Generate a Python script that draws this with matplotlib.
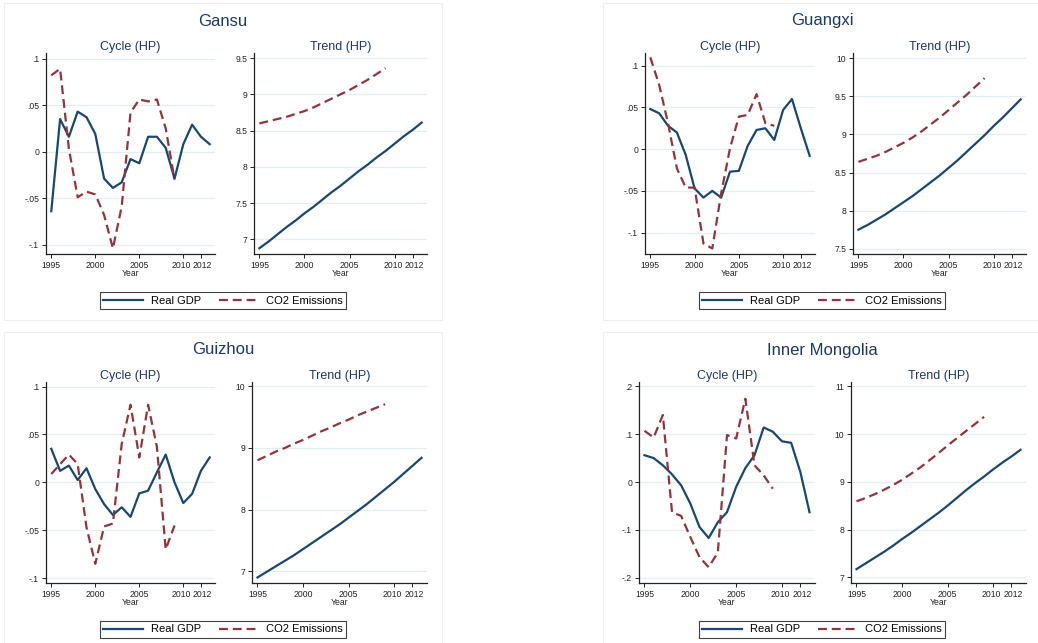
import matplotlib
matplotlib.use("Agg")
import matplotlib.pyplot as plt
import matplotlib.transforms as mtransforms
from matplotlib.lines import Line2D
from matplotlib.patches import Rectangle

plt.rcParams["font.family"] = ["Liberation Sans", "DejaVu Sans"]

NAVY = "#1a476f"
MAROON = "#90353b"
TITLE_COL = "#1e3864"
GRID_COL = "#e4eef0"

YEARS = list(range(1995, 2014))          # GDP series 1995-2013
YEARS_CO2 = list(range(1995, 2010))      # CO2 series 1995-2009
XTICKS = [1995, 2000, 2005, 2010, 2012]

# --- Gansu ---
gansu_gdp_cycle = [-0.064, 0.035, 0.016, 0.043, 0.037, 0.019, -0.029, -0.039,
                   -0.033, -0.008, -0.0125, 0.016, 0.016, 0.004, -0.029,
                   0.008, 0.029, 0.016, 0.008]
gansu_co2_cycle = [0.082, 0.089, 0.003, -0.049, -0.043, -0.046, -0.068,
                   -0.104, -0.059, 0.042, 0.056, 0.054, 0.056, 0.025, -0.030]
gansu_gdp_trend = [6.88, 6.97, 7.07, 7.17, 7.26, 7.36, 7.45, 7.55, 7.65,
                   7.74, 7.84, 7.94, 8.03, 8.13, 8.22, 8.32, 8.42, 8.51, 8.61]
gansu_co2_trend = [8.60, 8.63, 8.66, 8.69, 8.73, 8.77, 8.82, 8.88, 8.94,
                   9.00, 9.06, 9.13, 9.20, 9.28, 9.36]

# --- Guangxi ---
guangxi_gdp_cycle = [0.048, 0.043, 0.028, 0.020, -0.007, -0.047, -0.058,
                     -0.050, -0.058, -0.027, -0.026, 0.004, 0.023, 0.025,
                     0.011, 0.047, 0.060, 0.025, -0.008]
guangxi_co2_cycle = [0.110, 0.077, 0.031, -0.023, -0.046, -0.046, -0.113,
                     -0.119, -0.053, 0.001, 0.039, 0.041, 0.066, 0.031, 0.028]
guangxi_gdp_trend = [7.75, 7.81, 7.88, 7.95, 8.03, 8.11, 8.19, 8.28, 8.37,
                     8.46, 8.56, 8.66, 8.77, 8.88, 8.99, 9.11, 9.22, 9.34, 9.46]
guangxi_co2_trend = [8.64, 8.68, 8.72, 8.77, 8.83, 8.89, 8.96, 9.04, 9.13,
                     9.22, 9.32, 9.42, 9.52, 9.63, 9.74]

# --- Guizhou ---
guizhou_gdp_cycle = [0.035, 0.012, 0.0175, 0.0024, 0.0147, -0.007, -0.0227,
                     -0.034, -0.026, -0.036, -0.0115, -0.0087, 0.0105, 0.029,
                     0.0, -0.0216, -0.012, 0.012, 0.026]
guizhou_co2_cycle = [0.0087, 0.019, 0.029, 0.019, -0.047, -0.085, -0.046,
                     -0.043, 0.040, 0.081, 0.026, 0.081, 0.037, -0.070, -0.045]
guizhou_gdp_trend = [6.90, 6.99, 7.08, 7.17, 7.26, 7.36, 7.46, 7.56, 7.66,
                     7.76, 7.87, 7.98, 8.09, 8.21, 8.33, 8.45, 8.58, 8.71, 8.84]
guizhou_co2_trend = [8.80, 8.87, 8.94, 9.00, 9.07, 9.13, 9.20, 9.27, 9.33,
                     9.40, 9.46, 9.53, 9.59, 9.65, 9.71]

# --- Inner Mongolia ---
inner_mongolia_gdp_cycle = [0.056, 0.050, 0.035, 0.016, -0.007, -0.045,
                            -0.094, -0.117, -0.084, -0.063, -0.010, 0.029,
                            0.056, 0.114, 0.105, 0.085, 0.082, 0.021, -0.063]
inner_mongolia_co2_cycle = [0.107, 0.093, 0.140, -0.063, -0.071, -0.115,
                            -0.157, -0.178, -0.147, 0.098, 0.091, 0.174,
                            0.035, 0.014, -0.014]
inner_mongolia_gdp_trend = [7.17, 7.29, 7.41, 7.53, 7.66, 7.80, 7.93, 8.07,
                            8.21, 8.35, 8.50, 8.66, 8.82, 8.97, 9.11, 9.26,
                            9.40, 9.53, 9.67]
inner_mongolia_co2_trend = [8.59, 8.66, 8.74, 8.83, 8.93, 9.04, 9.17, 9.30,
                            9.45, 9.60, 9.76, 9.91, 10.06, 10.21, 10.36]

PROVINCES = ["Gansu", "Guangxi", "Guizhou", "Inner Mongolia"]
GDP_CYCLE = [gansu_gdp_cycle, guangxi_gdp_cycle, guizhou_gdp_cycle,
             inner_mongolia_gdp_cycle]
CO2_CYCLE = [gansu_co2_cycle, guangxi_co2_cycle, guizhou_co2_cycle,
             inner_mongolia_co2_cycle]
GDP_TREND = [gansu_gdp_trend, guangxi_gdp_trend, guizhou_gdp_trend,
             inner_mongolia_gdp_trend]
CO2_TREND = [gansu_co2_trend, guangxi_co2_trend, guizhou_co2_trend,
             inner_mongolia_co2_trend]
CYCLE_TICKS = [[-0.1, -0.05, 0, 0.05, 0.1], [-0.1, -0.05, 0, 0.05, 0.1],
               [-0.1, -0.05, 0, 0.05, 0.1], [-0.2, -0.1, 0, 0.1, 0.2]]
TREND_TICKS = [[7, 7.5, 8, 8.5, 9, 9.5], [7.5, 8, 8.5, 9, 9.5, 10],
               [7, 8, 9, 10], [7, 8, 9, 10, 11]]
CYCLE_LIM = [(-0.11, 0.106), (-0.1256, 0.1152), (-0.105, 0.1047),
             (-0.211, 0.209)]
TREND_LIM = [(6.8, 9.57), (7.43, 10.07), (6.81, 10.07), (6.88, 11.09)]

W, H = 1038, 643
fig = plt.figure(figsize=(W / 100, H / 100), dpi=100)
fig.patch.set_facecolor("white")


def box(left, top, right, bottom):
    """Pixel box (top-origin) -> figure fraction rect."""
    return [left / W, 1 - bottom / H, (right - left) / W, (bottom - top) / H]


def stata_fmt(v):
    if v == 0:
        return "0"
    if float(v).is_integer():
        return str(int(v))
    s = f"{v:g}"
    return s.replace("0.", ".")


# panel origins (left, top) and axes pixel boxes relative to them
PANEL_ORIGIN = [(0, 0), (599, 0), (0, 329), (599, 329)]
CYCLE_LR = [(46, 215), (46, 216), (46, 215), (40, 216)]
TREND_LR = [(254, 427), (254, 427), (252, 427), (252, 427)]


def style_axis(ax, ticks, lim):
    ax.set_xlim(1994.4, 2013.6)
    ax.set_ylim(*lim)
    ax.set_xticks(XTICKS)
    ax.set_xticklabels([str(t) for t in XTICKS])
    ax.set_yticks(ticks)
    ax.set_yticklabels([stata_fmt(t) for t in ticks])
    for side in ("top", "right"):
        ax.spines[side].set_visible(False)
    for side in ("left", "bottom"):
        ax.spines[side].set_color("#222222")
        ax.spines[side].set_linewidth(0.9)
    ax.tick_params(axis="both", labelsize=6.2, length=3, width=0.7,
                   color="#222222", pad=2, labelcolor="#222222")
    ax.grid(axis="y", color=GRID_COL, linewidth=0.9)
    ax.set_axisbelow(True)
    ax.set_xlabel("Year", fontsize=6.2, labelpad=-1, color="#222222")
    # 2010 and 2012 sit close together: nudge them apart a little
    labels = ax.get_xticklabels()
    for lab, dx in ((labels[3], -1.6), (labels[4], 1.6)):
        lab.set_transform(lab.get_transform() + mtransforms.ScaledTranslation(
            dx / 100, 0, fig.dpi_scale_trans))


for i, name in enumerate(PROVINCES):
    ox, oy = PANEL_ORIGIN[i]
    # faint panel frame
    fig.patches.append(Rectangle(((ox + 4) / W, 1 - (oy + 320) / H),
                                 438 / W, 317 / H, transform=fig.transFigure,
                                 fill=False, edgecolor="#eeeeee", lw=0.8))
    fig.text((ox + 223) / W, 1 - (oy + 21) / H, name, ha="center",
             va="center", fontsize=12, color=TITLE_COL)

    cl, cr = CYCLE_LR[i]
    ax1 = fig.add_axes(box(ox + cl, oy + 53, ox + cr, oy + 254))
    ax1.plot(YEARS, GDP_CYCLE[i], color=NAVY, lw=1.6)
    ax1.plot(YEARS_CO2, CO2_CYCLE[i], color=MAROON, lw=1.6,
             dashes=(4, 2.2))
    style_axis(ax1, CYCLE_TICKS[i], CYCLE_LIM[i])
    ax1.set_title("Cycle (HP)", fontsize=9, color=TITLE_COL, pad=2.5)

    tl, tr = TREND_LR[i]
    ax2 = fig.add_axes(box(ox + tl, oy + 53, ox + tr, oy + 254))
    ax2.plot(YEARS, GDP_TREND[i], color=NAVY, lw=1.6)
    ax2.plot(YEARS_CO2, CO2_TREND[i], color=MAROON, lw=1.6,
             dashes=(4, 2.2))
    style_axis(ax2, TREND_TICKS[i], TREND_LIM[i])
    ax2.set_title("Trend (HP)", fontsize=9, color=TITLE_COL, pad=2.5)

    handles = [Line2D([], [], color=NAVY, lw=1.6),
               Line2D([], [], color=MAROON, lw=1.6, dashes=(4, 2.2))]
    leg = fig.legend(handles, ["Real GDP", "CO2 Emissions"], ncol=2,
                     loc="center",
                     bbox_to_anchor=((ox + 223) / W, 1 - (oy + 300.5) / H),
                     fontsize=8, frameon=True, fancybox=False,
                     handlelength=3.6, handletextpad=0.65, columnspacing=1.6,
                     borderpad=0.35)
    leg.get_frame().set_edgecolor("#111111")
    leg.get_frame().set_linewidth(0.8)

fig.savefig("out.png", dpi=100)
